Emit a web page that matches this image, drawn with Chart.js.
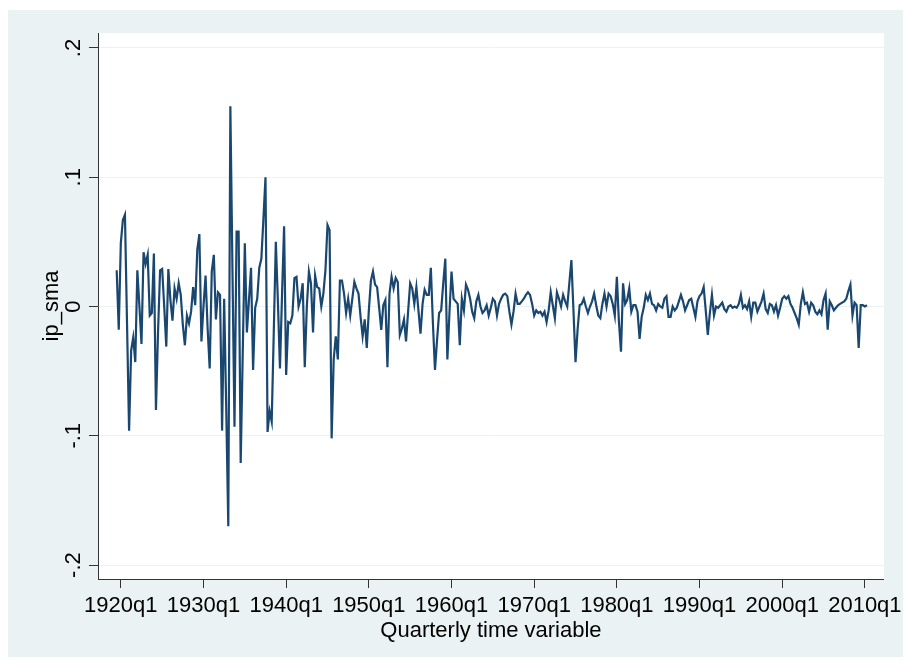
<!DOCTYPE html>
<html>
<head>
<meta charset="utf-8">
<title>ip_sma</title>
<script src="https://cdn.jsdelivr.net/npm/chart.js@4.4.1/dist/chart.umd.min.js"></script>
<style>
  html, body { margin: 0; padding: 0; background: #ffffff; }
  #wrap { position: relative; width: 907px; height: 662px; }
</style>
</head>
<body>
<div id="wrap"><canvas id="ip-chart" width="907" height="662"></canvas></div>
<script>
// ip_sma by quarter, one array per decade (ip1910s starts at 1919q3)
const ip1910s = [0.028, -0.018];
const ip1920s = [
    0.049, 0.067, 0.071, -0.013,  -0.096, -0.034, -0.024, -0.043,
    0.028, 0.000, -0.029, 0.042,  0.033, 0.040, -0.007, -0.005,
    0.041, -0.080, -0.020, 0.028,  0.029, 0.000, -0.031, 0.029,
    0.005, -0.011, 0.014, 0.006,  0.018, 0.009, -0.014, -0.030,
    -0.007, -0.013, -0.004, 0.015,  0.001, 0.044, 0.056, -0.027
];
const ip1930s = [
    0.000, 0.024, -0.017, -0.048,  0.027, 0.040, -0.010, 0.011,
    0.009, -0.096, 0.006, -0.079,  -0.170, 0.155, 0.030, -0.093,
    0.058, 0.058, -0.121, -0.035,  0.049, -0.020, 0.005, 0.030,
    -0.049, -0.001, 0.006, 0.030,  0.037, 0.068, 0.100, -0.097,
    -0.081, -0.089, -0.020, 0.050,  0.004, -0.048, 0.009, 0.062
];
const ip1940s = [
    -0.053, -0.012, -0.013, -0.007,  0.022, 0.023, 0.000, 0.006,
    0.018, -0.047, 0.000, 0.027,  0.018, -0.020, 0.024, 0.015,
    0.014, 0.000, 0.010, 0.028,  0.063, 0.059, -0.102, -0.041,
    -0.023, -0.041, 0.020, 0.020,  0.010, -0.005, 0.006, -0.007,
    0.006, 0.019, 0.014, 0.010,  -0.008, -0.023, -0.010, -0.032
];
const ip1950s = [
    -0.003, 0.020, 0.027, 0.017,  0.015, -0.001, -0.018, 0.001,
    0.005, -0.047, 0.010, 0.023,  0.014, 0.022, 0.019, -0.022,
    -0.017, -0.010, -0.027, -0.004,  0.018, 0.014, 0.002, 0.015,
    -0.003, -0.021, 0.002, 0.013,  0.009, 0.009, 0.030, -0.013,
    -0.049, -0.026, -0.005, -0.003,  0.018, 0.037, -0.041, -0.005
];
const ip1960s = [
    0.027, 0.006, 0.004, 0.002,  -0.030, 0.006, -0.003, 0.017,
    0.013, 0.006, -0.004, -0.009,  0.004, 0.009, 0.000, -0.005,
    -0.003, 0.001, -0.007, -0.001,  0.006, 0.004, -0.007, 0.002,
    0.006, 0.009, 0.010, 0.008,  -0.004, -0.014, -0.004, 0.010,
    0.002, 0.002, 0.004, 0.006,  0.009, 0.011, 0.009, 0.002
];
const ip1970s = [
    -0.007, -0.003, -0.005, -0.004,  -0.007, -0.004, -0.012, -0.003,
    0.011, 0.001, -0.009, 0.011,  0.006, 0.000, 0.009, 0.004,
    0.000, 0.018, 0.036, -0.003,  -0.043, -0.018, 0.001, 0.002,
    0.006, 0.000, -0.005, 0.000,  0.004, 0.010, 0.001, -0.007,
    -0.009, 0.002, 0.010, 0.000,  0.010, 0.008, 0.002, -0.007
];
const ip1980s = [
    0.023, -0.012, -0.035, 0.018,  0.002, 0.005, 0.014, -0.004,
    0.001, 0.001, -0.004, -0.025,  -0.008, -0.001, 0.009, 0.005,
    0.010, 0.002, 0.001, -0.003,  0.002, 0.000, -0.001, 0.006,
    0.008, -0.008, -0.008, 0.000,  -0.003, -0.001, 0.004, 0.009,
    0.004, -0.003, 0.001, 0.005,  0.006, -0.001, -0.008, 0.004
];
const ip1990s = [
    0.008, 0.010, 0.015, -0.003,  -0.022, -0.005, 0.009, -0.007,
    0.000, -0.001, 0.001, 0.003,  -0.002, -0.004, 0.000, 0.001,
    -0.001, 0.000, -0.001, 0.002,  0.009, -0.001, 0.001, -0.002,
    0.004, -0.008, 0.003, 0.003,  -0.004, 0.000, 0.004, 0.010,
    -0.002, -0.005, 0.002, 0.001,  -0.004, 0.001, -0.007, -0.001
];
const ip2000s = [
    0.006, 0.008, 0.006, 0.008,  0.002, -0.001, -0.005, -0.009,
    -0.014, 0.002, 0.011, 0.002,  0.003, -0.004, 0.003, 0.001,
    -0.004, -0.006, -0.003, -0.006,  0.005, 0.010, -0.018, 0.004,
    0.001, -0.003, -0.001, 0.001,  0.002, 0.003, 0.004, 0.006,
    0.012, 0.017, -0.007, 0.003,  0.001, -0.032, 0.001, 0.001
];
const ip2010s = [0.000, 0.001];

const firstQuarter = 1919.5; // 1919q3 as a decimal year
const xTickYears = [1920, 1930, 1940, 1950, 1960, 1970, 1980, 1990, 2000, 2010];
const yTickValues = [-0.2, -0.1, 0, 0.1, 0.2];
const yTickLabels = ['-.2', '-.1', '0', '.1', '.2'];

const ipSma = [].concat(ip1910s, ip1920s, ip1930s, ip1940s, ip1950s,
    ip1960s, ip1970s, ip1980s, ip1990s, ip2000s, ip2010s);
const points = ipSma.map((v, i) => ({ x: firstQuarter + i / 4, y: v }));

const labelFont = { family: '"Liberation Sans", Arial, sans-serif', size: 22 };

// outer grey frame, white plot region and the rotated y labels
const stataFrame = {
    id: 'stataFrame',
    beforeDraw(chart) {
        const ctx = chart.ctx;
        const a = chart.chartArea;
        ctx.save();
        ctx.fillStyle = '#eaf2f3';
        ctx.fillRect(8, 10, 895, 647);
        ctx.fillStyle = '#ffffff';
        ctx.fillRect(a.left, a.top, a.right - a.left, a.bottom - a.top);
        ctx.restore();
    },
    afterDraw(chart) {
        const ctx = chart.ctx;
        const y = chart.scales.y;
        ctx.save();
        ctx.font = '22px "Liberation Sans", Arial, sans-serif';
        ctx.fillStyle = '#000000';
        ctx.textAlign = 'center';
        ctx.textBaseline = 'alphabetic';
        yTickValues.forEach((v, i) => {
            ctx.save();
            ctx.translate(80, y.getPixelForValue(v));
            ctx.rotate(-Math.PI / 2);
            ctx.fillText(yTickLabels[i], 0, 0);
            ctx.restore();
        });
        ctx.save();
        ctx.translate(58, (chart.chartArea.top + chart.chartArea.bottom) / 2);
        ctx.rotate(-Math.PI / 2);
        ctx.fillText('ip_sma', 0, 0);
        ctx.restore();
        ctx.restore();
    }
};

const config = {
    type: 'line',
    data: {
        datasets: [{
            label: 'ip_sma',
            data: points,
            borderColor: '#1a476f',
            borderWidth: 2.2,
            pointRadius: 0,
            fill: false,
            tension: 0
        }]
    },
    options: {
        responsive: false,
        animation: false,
        devicePixelRatio: 1,
        layout: { padding: { top: 33, right: 17, left: 0, bottom: 0 } },
        plugins: {
            legend: { display: false },
            tooltip: { enabled: false }
        },
        scales: {
            x: {
                type: 'linear',
                min: 1917.24,
                max: 2012.3,
                afterBuildTicks: s => { s.ticks = xTickYears.map(v => ({ value: v })); },
                afterFit: s => { s.height = 83; },
                grid: {
                    drawOnChartArea: false,
                    tickLength: 9,
                    tickColor: '#333333'
                },
                border: { color: '#333333', width: 1 },
                ticks: {
                    autoSkip: false,
                    maxRotation: 0,
                    padding: 5,
                    color: '#000000',
                    font: labelFont,
                    callback: v => v + 'q1'
                },
                title: {
                    display: true,
                    text: 'Quarterly time variable',
                    color: '#000000',
                    font: labelFont,
                    padding: { top: 0, bottom: 18 }
                }
            },
            y: {
                min: -0.2108,
                max: 0.2116,
                afterBuildTicks: s => { s.ticks = yTickValues.map(v => ({ value: v })); },
                afterFit: s => { s.width = 98; },
                grid: {
                    color: '#eaf2f3',
                    lineWidth: 1,
                    tickLength: 9,
                    tickColor: '#333333'
                },
                border: { color: '#333333', width: 1 },
                ticks: { display: false }
            }
        }
    },
    plugins: [stataFrame]
};

const chart = new Chart(document.getElementById('ip-chart'), config);
</script>
</body>
</html>
